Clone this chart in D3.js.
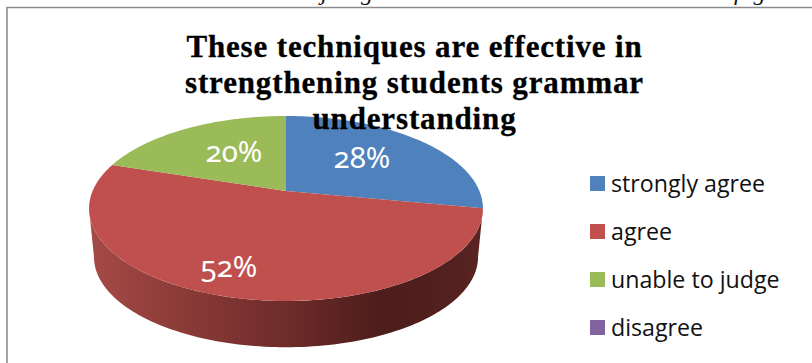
<!DOCTYPE html>
<html><head><meta charset="utf-8">
<script src="https://cdn.jsdelivr.net/npm/d3@7/dist/d3.min.js"></script>
<style>html,body{margin:0;padding:0;background:#fff;overflow:hidden}svg{display:block}</style>
</head><body><svg width="812" height="363"></svg>
<script>
const categories = ["strongly agree","agree","unable to judge","disagree"];
const values = [28,52,20,0];
const colors = ["#4f81bd","#c0504d","#9bbb59","#8064a2"];
const labels = ["28%","52%","20%",""];
const titleLines = ["These techniques are effective in","strengthening students grammar","understanding"];
const clippedLine = "about the and are to judge. The result . Section ... in figure";

const svg = d3.select("svg");
const defs = svg.append("defs");
const grad = defs.append("linearGradient").attr("id","wall").attr("gradientUnits","userSpaceOnUse")
  .attr("x1",89).attr("x2",483).attr("y1",0).attr("y2",0);
[[0,"#a54a46"],[0.2,"#8f3d3a"],[0.5,"#6e2c2a"],[0.74,"#4c1d1b"],[0.85,"#4f1f1e"],[1,"#5a2422"]]
  .forEach(([o,c])=>grad.append("stop").attr("offset",o).attr("stop-color",c));

svg.append("text").attr("x",56).attr("y",-0.5).attr("font-family","Liberation Serif")
  .attr("font-style","italic").attr("font-size",24).attr("fill","#111")
  .attr("textLength",750).text(clippedLine);

svg.append("path").attr("d","M7,363V7.5H812").attr("fill","none").attr("stroke","#8c8c8c").attr("stroke-width",1.6);

const cx=286, cy=191, A=89.2, B=193.4, k=0.189, depth=49, shrink=0.975;
function proj(a,r,bottom){
  const u=r*Math.sin(a), v=r*Math.cos(a), w=1+k*v, s=bottom?shrink:1;
  return [cx+s*B*u/w, cy+(bottom?depth:0)-s*A*v/w];
}
const pie = d3.pie().sort(null).value(d=>d)(values);
const arcPts=(a0,a1,bottom)=>d3.range(0,121).map(i=>proj(a0+(a1-a0)*i/120,1,bottom));
const line=d3.line();

const frontStart=Math.PI/2+Math.asin(k), frontEnd=3*Math.PI/2-Math.asin(k);
pie.forEach((p,i)=>{
  const a0=Math.max(p.startAngle,frontStart), a1=Math.min(p.endAngle,frontEnd);
  if(a1<=a0||p.value===0) return;
  svg.append("path").attr("fill",i===1?"url(#wall)":colors[i])
    .attr("d",line([...arcPts(a0,a1,false),...arcPts(a0,a1,true).reverse()])+"Z");
});
pie.forEach((p,i)=>{
  if(p.value===0) return;
  svg.append("path").attr("fill",colors[i]).attr("d",line([proj(0,0,false),...arcPts(p.startAngle,p.endAngle,false)])+"Z");
});

const labelPos=[[362,168],[229,277],[234,162]];
labels.forEach((t,i)=>{ if(!t) return;
  svg.append("text").attr("x",labelPos[i][0]).attr("y",labelPos[i][1]).attr("text-anchor","middle")
    .attr("font-family","Noto Sans").style("font-variant-numeric","oldstyle-nums")
    .attr("font-size",29.5).attr("fill","#fff").text(t);
});

titleLines.forEach((t,i)=>{
  svg.append("text").attr("x",414.5).attr("y",[57,93,129][i]).attr("text-anchor","middle")
    .attr("font-family","Liberation Serif").attr("font-weight","bold").attr("font-size",31)
    .attr("letter-spacing",0.85).attr("fill","#000").attr("stroke","#000").attr("stroke-width",0.3).text(t);
});

categories.forEach((c,i)=>{
  const y=d3.scalePoint().domain(categories).range([184,328])(c);
  svg.append("rect").attr("x",590).attr("y",y-8).attr("width",15).attr("height",15).attr("fill",colors[i]);
  svg.append("text").attr("x",611).attr("y",y+8).attr("font-family","Open Sans").attr("font-size",23.2).attr("fill","#111").text(c);
});
</script></body></html>
